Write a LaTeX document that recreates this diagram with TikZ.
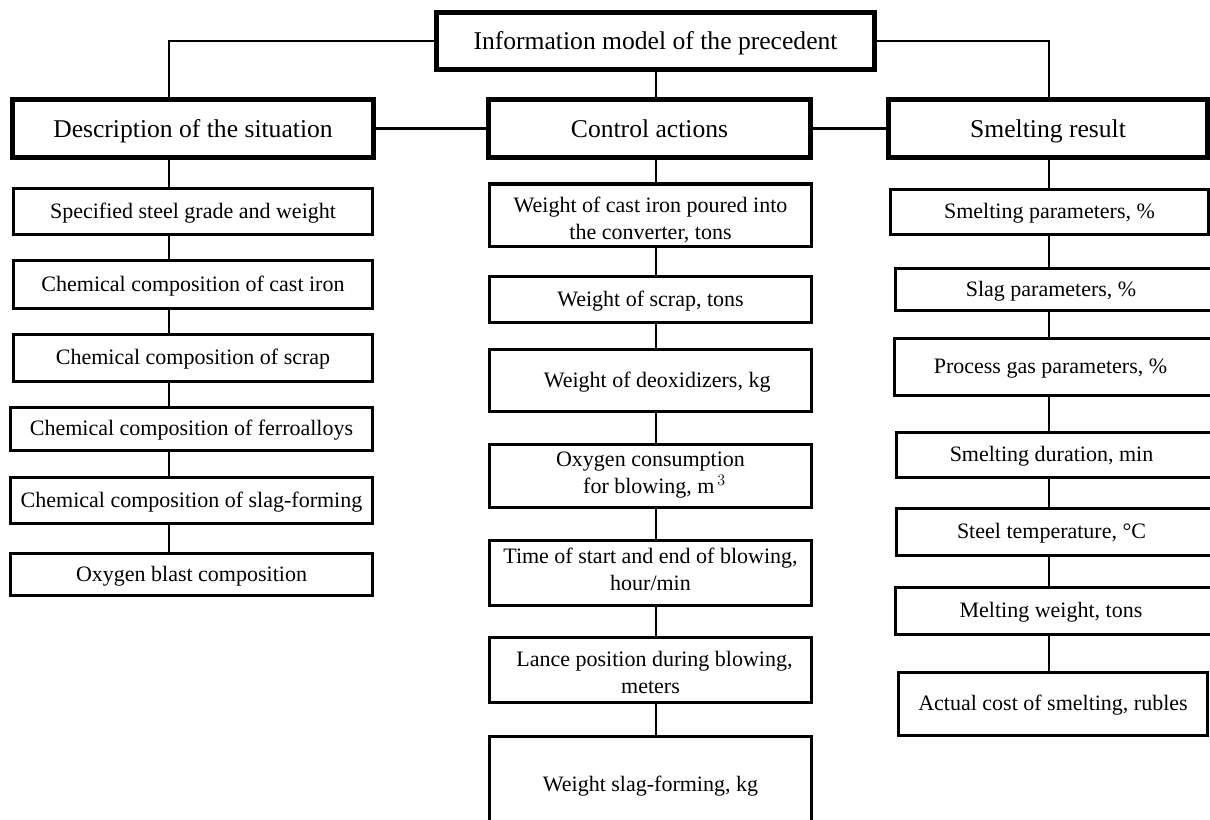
\documentclass[tikz,border=0pt]{standalone}
\usepackage{fontspec}
\setmainfont{Liberation Serif}

\begin{document}
\begin{tikzpicture}[x=0.75pt,y=-0.75pt,
    head/.style={draw,line width=3.6pt,inner sep=0pt,font=\fontsize{19.2}{23}\selectfont,
      execute at begin node={\rule{0pt}{0.92em}},execute at end node={\rule[-0.22em]{0pt}{0pt}}},
    item/.style={draw,line width=2.4pt,inner sep=0pt,align=center,font=\fontsize{16.5}{20.25}\selectfont,
      execute at begin node={\rule{0pt}{0.92em}},execute at end node={\rule[-0.3em]{0pt}{0pt}}},
    link/.style={line width=2.1pt}]
  \useasboundingbox (0,0) rectangle (1210,819);
  % spines of the three columns
  \coordinate (lspine) at (169,0);
  \coordinate (mspine) at (656,0);
  \coordinate (rspine) at (1049,0);
  % top level
  \node[head,minimum width=328.7pt,minimum height=42.2pt] (model) at (655.5,41) {Information model of the precedent};
  \node[head,minimum width=270.9pt,minimum height=43.7pt] (situation) at (193,128.5) {Description of the situation};
  \node[head,minimum width=241.7pt,minimum height=43.7pt] (control) at (649.5,128.5) {Control actions};
  \node[head,minimum width=239.4pt,minimum height=43.7pt] (result) at (1048,128.5) {Smelting result};
  % situation column
  \node[item,minimum width=269.1pt,minimum height=34.4pt] (grade) at (193,211.5) {Specified steel grade and weight};
  \node[item,minimum width=269.1pt,minimum height=35.9pt] (castiron) at (193,284.5) {Chemical composition of cast iron};
  \node[item,minimum width=269.1pt,minimum height=35.1pt] (scrap) at (193,358) {Chemical composition of scrap};
  \node[item,minimum width=271.4pt,minimum height=32.1pt] (ferro) at (191.5,429) {Chemical composition of ferroalloys};
  \node[item,minimum width=271.4pt,minimum height=34.4pt] (slagform) at (191.5,500.5) {Chemical composition of slag-forming};
  \node[item,minimum width=271.4pt,minimum height=31.4pt] (blast) at (191.5,574.5) {Oxygen blast composition};
  % control column
  \node[item,minimum width=241.4pt,minimum height=45.6pt] (pour) at (650.5,215) {\rule{0pt}{1.3em}Weight of cast iron poured into\\the converter, tons};
  \node[item,minimum width=241.4pt,minimum height=34.4pt] (scrapwt) at (650.5,299.5) {Weight of scrap, tons};
  \node[item,minimum width=241.4pt,minimum height=46.4pt] (deox) at (650.5,380.5) {\hspace*{10pt}Weight of deoxidizers, kg};
  \node[item,minimum width=241.4pt,minimum height=47.1pt] (oxygen) at (650.5,476) {Oxygen consumption\\\hspace*{6pt}for blowing, m$^{\,3}$};
  \node[item,minimum width=241.4pt,minimum height=48.6pt] (blowtime) at (650.5,573) {Time of start and end of blowing,\\hour/min};
  \node[item,minimum width=241.4pt,minimum height=48.6pt] (lance) at (650.5,670) {\rule{0pt}{1.2em}\hspace*{6pt}Lance position during blowing,\\meters};
  \node[item,minimum width=241.4pt,minimum height=72.6pt] (slagwt) at (650.5,785) {Weight slag-forming, kg};
  % result column
  \node[item,minimum width=238.4pt,minimum height=33.6pt] (params) at (1049.5,212) {Smelting parameters, \%};
  \node[item,minimum width=239.1pt,minimum height=31.4pt] (slag) at (1055,289.5) {\hspace*{-6pt}Slag parameters, \%};
  \node[item,minimum width=239.9pt,minimum height=42.6pt] (gas) at (1054.5,367) {\hspace*{-6pt}Process gas parameters, \%};
  \node[item,minimum width=238.4pt,minimum height=33.6pt] (duration) at (1055.5,455) {\hspace*{-6pt}Smelting duration, min};
  \node[item,minimum width=238.4pt,minimum height=35.1pt] (temp) at (1055.5,532) {\hspace*{-6pt}Steel temperature, °C};
  \node[item,minimum width=239.1pt,minimum height=35.1pt] (melt) at (1055,611) {\hspace*{-6pt}Melting weight, tons};
  \node[item,minimum width=231.6pt,minimum height=47.1pt] (cost) at (1053,704) {Actual cost of smelting, rubles};
  % connectors
  \draw[link] (model.west) -| (situation.north -| lspine);
  \draw[link] (model.east) -| (result.north -| rspine);
  \draw[link] (model.south -| mspine) -- (control.north -| mspine);
  \draw[link] (situation.east) -- (control.west);
  \draw[link] (control.east) -- (result.west);
  \foreach \a/\b in {situation/grade,grade/castiron,castiron/scrap,scrap/ferro,ferro/slagform,slagform/blast}
    \draw[link] (\a.south -| lspine) -- (\b.north -| lspine);
  \foreach \a/\b in {control/pour,pour/scrapwt,scrapwt/deox,deox/oxygen,oxygen/blowtime,blowtime/lance,lance/slagwt}
    \draw[link] (\a.south -| mspine) -- (\b.north -| mspine);
  \foreach \a/\b in {result/params,params/slag,slag/gas,gas/duration,duration/temp,temp/melt,melt/cost}
    \draw[link] (\a.south -| rspine) -- (\b.north -| rspine);
\end{tikzpicture}
\end{document}
